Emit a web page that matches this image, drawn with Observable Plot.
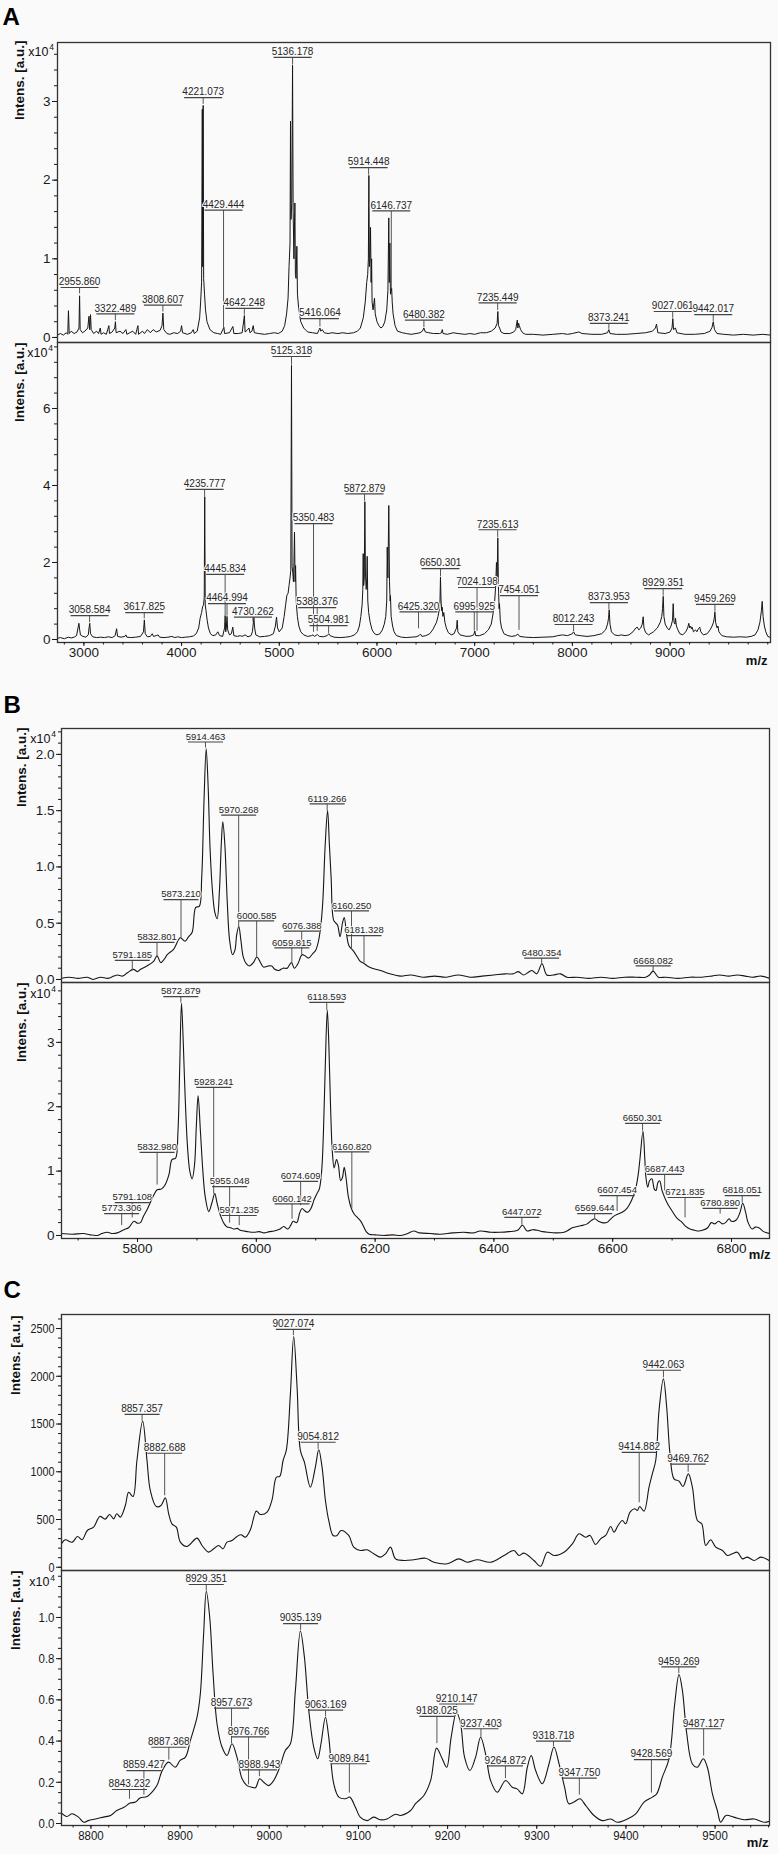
<!DOCTYPE html>
<html><head><meta charset="utf-8">
<script src="https://cdn.jsdelivr.net/npm/d3@7"></script>
<script src="https://cdn.jsdelivr.net/npm/@observablehq/plot@0.6"></script>
<style>
html,body{margin:0;padding:0;background:#fafafa;}
#root{position:relative;width:778px;height:1854px;overflow:hidden;font-family:"Liberation Sans",Arial,sans-serif;}
#root svg{position:absolute;left:0;}
</style></head><body><div id="root"></div>
<script>
// ---------- Spectra (m/z, intensity) ----------
const specA1 = [[2730,0.03],[2760,0.05],[2790,0.03],[2820,0.06],[2835,0.04],[2842,0.34],[2850,0.05],[2870,0.08],[2900,0.05],[2930,0.07],[2950,0.12],[2956,0.53],[2962,0.1],[2985,0.06],[3010,0.08],[3040,0.12],[3052,0.27],[3060,0.1],[3068,0.29],[3075,0.1],[3100,0.05],[3130,0.08],[3150,0.05],[3168,0.12],[3176,0.04],[3200,0.06],[3230,0.04],[3256,0.15],[3262,0.05],[3290,0.07],[3316,0.12],[3323,0.2],[3330,0.06],[3370,0.08],[3400,0.05],[3430,0.1],[3440,0.04],[3470,0.06],[3500,0.08],[3530,0.04],[3553,0.15],[3560,0.04],[3600,0.08],[3620,0.05],[3650,0.1],[3680,0.06],[3710,0.1],[3740,0.07],[3780,0.09],[3800,0.15],[3809,0.31],[3818,0.1],[3850,0.05],[3880,0.04],[3920,0.06],[3960,0.05],[3990,0.08],[4000,0.15],[4010,0.06],[4060,0.04],[4100,0.06],[4119,0.1],[4130,0.05],[4160,0.08],[4185,0.25],[4195,0.45],[4205,0.7],[4212,2.9],[4216,0.9],[4221,2.95],[4226,0.75],[4235,0.55],[4245,0.35],[4260,0.2],[4290,0.1],[4330,0.06],[4370,0.05],[4400,0.04],[4433,0.13],[4440,0.05],[4490,0.06],[4525,0.14],[4535,0.05],[4580,0.05],[4620,0.06],[4643,0.28],[4650,0.07],[4670,0.09],[4690,0.12],[4700,0.06],[4720,0.08],[4733,0.15],[4745,0.06],[4790,0.05],[4850,0.04],[4900,0.05],[4950,0.06],[4990,0.05],[5030,0.08],[5055,0.15],[5075,0.3],[5090,0.5],[5100,0.9],[5110,1.2],[5115,2.75],[5120,1.5],[5128,1.7],[5136,3.46],[5142,1.6],[5150,1.0],[5160,1.71],[5165,0.8],[5172,0.75],[5180,1.16],[5186,0.55],[5200,0.35],[5220,0.2],[5250,0.12],[5290,0.07],[5340,0.06],[5390,0.05],[5408,0.1],[5416,0.12],[5425,0.08],[5440,0.1],[5460,0.06],[5500,0.05],[5540,0.06],[5600,0.05],[5650,0.06],[5700,0.05],[5760,0.06],[5800,0.08],[5830,0.12],[5860,0.25],[5880,0.45],[5895,0.7],[5905,0.8],[5912,1.0],[5917,2.06],[5922,0.9],[5928,1.0],[5934,1.4],[5940,0.7],[5945,1.0],[5950,0.45],[5960,0.35],[5975,0.5],[5982,0.3],[6000,0.2],[6020,0.15],[6040,0.12],[6060,0.14],[6080,0.2],[6100,0.35],[6112,0.6],[6121,1.52],[6126,0.7],[6132,1.2],[6138,0.55],[6150,0.63],[6156,0.45],[6165,0.3],[6185,0.15],[6210,0.08],[6260,0.06],[6300,0.05],[6350,0.04],[6400,0.05],[6440,0.06],[6465,0.08],[6480,0.12],[6495,0.07],[6530,0.06],[6580,0.05],[6640,0.05],[6660,0.06],[6668,0.1],[6676,0.05],[6720,0.04],[6780,0.06],[6830,0.05],[6900,0.04],[6950,0.05],[7000,0.04],[7060,0.06],[7120,0.06],[7170,0.08],[7210,0.12],[7230,0.18],[7237,0.33],[7244,0.15],[7255,0.12],[7270,0.07],[7300,0.05],[7360,0.05],[7400,0.07],[7420,0.1],[7436,0.22],[7442,0.12],[7450,0.18],[7457,0.15],[7470,0.1],[7490,0.06],[7520,0.04],[7600,0.04],[7700,0.03],[7800,0.04],[7900,0.05],[7950,0.04],[8000,0.05],[8066,0.07],[8100,0.05],[8200,0.04],[8300,0.04],[8360,0.06],[8373,0.1],[8385,0.05],[8450,0.04],[8550,0.04],[8650,0.05],[8750,0.06],[8820,0.08],[8850,0.12],[8861,0.17],[8875,0.06],[8950,0.05],[9000,0.07],[9020,0.12],[9028,0.24],[9036,0.1],[9055,0.12],[9070,0.06],[9150,0.04],[9250,0.04],[9350,0.05],[9410,0.08],[9430,0.13],[9442,0.2],[9455,0.1],[9480,0.05],[9550,0.04],[9650,0.03],[9750,0.04],[9850,0.03],[9950,0.04],[10028,0.03]];

const specA2 = [[2730,0.03],[2760,0.05],[2800,0.02],[2840,0.06],[2870,0.04],[2900,0.06],[2925,0.1],[2940,0.3],[2949,0.42],[2957,0.25],[2965,0.12],[2990,0.08],[3020,0.06],[3045,0.12],[3053,0.3],[3060,0.42],[3068,0.15],[3090,0.07],[3130,0.05],[3170,0.06],[3210,0.05],[3250,0.07],[3290,0.05],[3320,0.1],[3335,0.28],[3345,0.08],[3380,0.06],[3420,0.08],[3430,0.12],[3440,0.06],[3480,0.05],[3530,0.06],[3580,0.08],[3610,0.2],[3619,0.51],[3628,0.15],[3650,0.07],[3680,0.08],[3700,0.15],[3712,0.08],[3740,0.1],[3760,0.12],[3775,0.06],[3820,0.05],[3860,0.06],[3900,0.08],[3930,0.05],[3960,0.07],[4000,0.05],[4040,0.06],[4080,0.07],[4120,0.09],[4150,0.15],[4175,0.3],[4190,0.55],[4205,0.7],[4215,0.85],[4225,0.9],[4232,1.1],[4237,3.71],[4242,0.9],[4250,0.75],[4262,0.5],[4275,0.3],[4295,0.15],[4320,0.1],[4350,0.12],[4371,0.2],[4390,0.1],[4420,0.08],[4440,0.3],[4446,0.62],[4452,0.2],[4458,0.3],[4465,0.6],[4472,0.25],[4490,0.12],[4510,0.15],[4524,0.32],[4535,0.1],[4570,0.08],[4600,0.1],[4620,0.08],[4650,0.12],[4680,0.07],[4710,0.1],[4725,0.2],[4740,0.57],[4748,0.3],[4760,0.12],[4800,0.07],[4850,0.08],[4900,0.1],[4940,0.15],[4960,0.35],[4972,0.58],[4982,0.3],[5000,0.2],[5030,0.3],[5050,0.6],[5065,0.9],[5078,1.15],[5090,1.2],[5100,1.4],[5110,1.6],[5118,1.8],[5125,7.12],[5131,1.9],[5138,1.75],[5145,1.5],[5150,2.0],[5156,2.79],[5162,1.5],[5167,1.92],[5173,1.0],[5185,0.6],[5200,0.35],[5220,0.2],[5250,0.12],[5290,0.08],[5330,0.1],[5345,0.12],[5360,0.08],[5390,0.13],[5410,0.08],[5450,0.07],[5490,0.1],[5507,0.15],[5520,0.1],[5560,0.06],[5620,0.05],[5680,0.06],[5730,0.08],[5770,0.12],[5800,0.2],[5820,0.35],[5835,0.6],[5848,0.9],[5855,1.3],[5859,2.23],[5864,1.4],[5870,1.6],[5876,3.58],[5882,1.7],[5890,1.3],[5896,1.6],[5900,2.16],[5906,1.0],[5915,0.7],[5930,0.45],[5950,0.25],[5975,0.15],[6000,0.12],[6030,0.15],[6055,0.25],[6075,0.4],[6090,0.6],[6100,1.0],[6105,2.4],[6112,1.6],[6121,3.48],[6128,1.5],[6135,1.0],[6138,1.14],[6145,0.6],[6160,0.35],[6175,0.2],[6200,0.1],[6250,0.06],[6300,0.05],[6350,0.06],[6400,0.07],[6430,0.1],[6445,0.14],[6460,0.08],[6500,0.1],[6540,0.15],[6570,0.25],[6590,0.35],[6610,0.45],[6625,0.6],[6640,0.8],[6645,1.0],[6650,1.62],[6656,1.0],[6662,0.75],[6667,0.84],[6675,0.6],[6684,0.7],[6695,0.45],[6710,0.3],[6730,0.18],[6760,0.12],[6790,0.15],[6805,0.25],[6815,0.3],[6821,0.5],[6828,0.2],[6850,0.12],[6880,0.1],[6920,0.08],[6960,0.09],[6990,0.12],[7002,0.22],[7010,0.1],[7050,0.1],[7100,0.15],[7140,0.25],[7170,0.4],[7190,0.7],[7205,1.0],[7215,1.4],[7223,2.0],[7230,1.6],[7237,2.64],[7243,1.4],[7250,0.8],[7254,0.93],[7262,0.5],[7275,0.3],[7300,0.15],[7340,0.1],[7380,0.08],[7420,0.1],[7442,0.14],[7460,0.08],[7520,0.06],[7600,0.05],[7700,0.06],[7800,0.07],[7850,0.1],[7900,0.12],[7950,0.1],[8000,0.15],[8012,0.2],[8030,0.12],[8080,0.1],[8150,0.08],[8220,0.1],[8300,0.15],[8340,0.25],[8360,0.4],[8370,0.55],[8377,0.77],[8385,0.4],[8400,0.2],[8430,0.12],[8470,0.1],[8500,0.12],[8540,0.1],[8580,0.12],[8620,0.2],[8650,0.3],[8664,0.32],[8680,0.25],[8700,0.3],[8715,0.4],[8725,0.59],[8733,0.3],[8750,0.18],[8780,0.12],[8830,0.2],[8870,0.3],[8900,0.45],[8915,0.6],[8923,0.8],[8930,1.12],[8937,0.6],[8950,0.4],[8970,0.3],[8990,0.25],[9010,0.35],[9025,0.5],[9032,0.93],[9040,0.45],[9050,0.4],[9056,0.55],[9065,0.35],[9080,0.25],[9100,0.15],[9130,0.12],[9160,0.2],[9180,0.3],[9192,0.42],[9200,0.3],[9210,0.35],[9218,0.28],[9226,0.32],[9240,0.2],[9260,0.25],[9275,0.2],[9290,0.28],[9304,0.32],[9315,0.2],[9340,0.12],[9380,0.15],[9410,0.25],[9430,0.35],[9445,0.45],[9452,0.55],[9459,0.71],[9466,0.45],[9475,0.35],[9482,0.3],[9490,0.35],[9500,0.2],[9530,0.1],[9580,0.07],[9650,0.06],[9720,0.07],[9780,0.06],[9830,0.08],[9870,0.12],[9900,0.25],[9920,0.45],[9935,0.75],[9943,0.99],[9952,0.6],[9965,0.35],[9980,0.2],[10000,0.08],[10028,0.05]];

const specB1 = [[5672,0.01],[5685,0.02],[5700,0.01],[5715,0.02],[5725,0.0],[5738,0.02],[5750,0.01],[5760,0.03],[5766,0.04],[5775,0.03],[5783,0.06],[5793,0.09],[5800,0.07],[5805,0.09],[5816,0.12],[5827,0.16],[5833,0.21],[5839,0.15],[5845,0.18],[5850,0.22],[5861,0.27],[5872,0.37],[5880,0.34],[5886,0.38],[5892,0.42],[5898,0.64],[5904,0.65],[5908,0.9],[5912,1.6],[5915.6,2.05],[5919,1.7],[5922,1.18],[5926,0.8],[5930,0.6],[5934,0.54],[5938,0.8],[5941,1.2],[5943.6,1.4],[5947,1.2],[5951,0.7],[5955,0.35],[5960,0.22],[5964,0.26],[5967,0.4],[5970.5,0.47],[5974,0.35],[5978,0.2],[5983,0.14],[5988,0.12],[5995,0.15],[6001,0.2],[6006,0.16],[6012,0.11],[6020,0.12],[6026,0.12],[6031,0.09],[6038,0.08],[6045,0.1],[6052,0.1],[6059,0.15],[6064,0.1],[6070,0.14],[6077,0.22],[6082,0.21],[6088,0.19],[6095,0.23],[6100,0.26],[6105,0.35],[6109,0.5],[6112,0.7],[6116,1.2],[6120,1.5],[6123,1.2],[6126,0.9],[6130,0.53],[6134,0.5],[6137,0.48],[6141,0.38],[6145,0.5],[6148,0.55],[6152,0.4],[6156,0.3],[6164,0.25],[6170,0.2],[6175,0.16],[6182,0.14],[6187,0.12],[6195,0.1],[6209,0.08],[6225,0.05],[6243,0.03],[6260,0.04],[6280,0.02],[6300,0.03],[6320,0.02],[6340,0.04],[6360,0.02],[6380,0.03],[6400,0.04],[6420,0.05],[6433,0.05],[6441,0.07],[6450,0.04],[6457,0.06],[6464,0.08],[6472,0.05],[6481,0.14],[6489,0.04],[6500,0.04],[6512,0.05],[6523,0.02],[6540,0.02],[6560,0.01],[6580,0.02],[6600,0.01],[6620,0.02],[6640,0.02],[6655,0.02],[6662,0.04],[6668,0.074],[6677,0.02],[6690,0.02],[6710,0.01],[6730,0.02],[6750,0.02],[6767,0.03],[6780,0.04],[6795,0.03],[6810,0.04],[6823,0.03],[6835,0.02],[6850,0.03],[6864,0.01]];

const specB2 = [[5672,0.03],[5690,0.02],[5709,0.03],[5720,0.01],[5732,0.0],[5740,0.03],[5749,0.05],[5758,0.03],[5766,0.04],[5777,0.09],[5785,0.12],[5794,0.22],[5800,0.19],[5805,0.2],[5810,0.3],[5816,0.4],[5826,0.6],[5833,0.71],[5840,0.72],[5846,0.78],[5853,0.95],[5858,1.18],[5864,1.2],[5868,1.6],[5871,2.6],[5874,3.61],[5877,3.0],[5880,2.2],[5884,1.4],[5888,1.0],[5892,0.88],[5896,1.1],[5899,1.7],[5902,2.17],[5906,1.6],[5910,1.0],[5914,0.6],[5920,0.37],[5925,0.5],[5930,0.65],[5934,0.5],[5940,0.3],[5946,0.18],[5951,0.13],[5957,0.12],[5962,0.1],[5968,0.11],[5973,0.08],[5985,0.06],[5996,0.05],[6005,0.06],[6013,0.04],[6022,0.06],[6030,0.07],[6040,0.1],[6046,0.14],[6053,0.1],[6058,0.16],[6062,0.22],[6068,0.2],[6073,0.35],[6077,0.42],[6082,0.38],[6086,0.36],[6092,0.42],[6097,0.55],[6102,0.65],[6106,0.72],[6110,1.0],[6113,1.6],[6116,2.6],[6119.5,3.5],[6122,3.0],[6125,2.0],[6128,1.3],[6131,1.05],[6135,1.18],[6138,1.1],[6142,0.85],[6145,0.9],[6148,1.06],[6151,0.9],[6155,0.6],[6160,0.42],[6165,0.33],[6170,0.28],[6176,0.22],[6180,0.15],[6185,0.06],[6190,0.02],[6200,0.01],[6215,0.0],[6230,0.01],[6243,0.0],[6255,0.03],[6265,0.07],[6275,0.04],[6293,0.03],[6310,0.02],[6330,0.04],[6349,0.05],[6365,0.04],[6377,0.07],[6395,0.05],[6410,0.05],[6425,0.06],[6440,0.08],[6448,0.16],[6456,0.07],[6465,0.09],[6473,0.08],[6482,0.06],[6490,0.05],[6505,0.04],[6518,0.05],[6525,0.08],[6532,0.12],[6546,0.15],[6557,0.18],[6565,0.24],[6570,0.26],[6576,0.22],[6582,0.2],[6590,0.2],[6594,0.23],[6602,0.3],[6608,0.33],[6616,0.36],[6624,0.42],[6632,0.55],[6638,0.7],[6643,0.95],[6646,1.2],[6651,1.62],[6654,1.2],[6656,0.9],[6659,0.75],[6662,0.85],[6666,0.88],[6670,0.72],[6673,0.7],[6676,0.82],[6679,0.85],[6683,0.7],[6687,0.6],[6692,0.5],[6700,0.38],[6709,0.26],[6715,0.22],[6722,0.15],[6730,0.1],[6738,0.08],[6745,0.07],[6751,0.08],[6760,0.12],[6766,0.2],[6772,0.18],[6778,0.22],[6785,0.18],[6790,0.2],[6796,0.26],[6800,0.22],[6808,0.24],[6814,0.35],[6819,0.5],[6824,0.35],[6828,0.2],[6835,0.1],[6840,0.13],[6846,0.12],[6854,0.06],[6864,0.03]];

const specC1 = [[8767,245],[8771,288],[8779,263],[8785,322],[8790,288],[8796,385],[8803,420],[8810,532],[8816,504],[8821,553],[8825.5,507],[8829,560],[8833,525],[8838.6,647],[8842.3,786],[8847.2,741],[8851.6,1118],[8858,1530],[8862.9,1118],[8866.6,804],[8873.3,636],[8878.6,647],[8883.4,727],[8887.2,560],[8890.9,455],[8895.8,420],[8900.3,263],[8907.7,218],[8919,305],[8924.6,228],[8932,158],[8937.7,193],[8943.3,228],[8948.1,193],[8952.6,263],[8958.2,280],[8963.8,322],[8968.3,340],[8973.2,315],[8978.8,392],[8985.5,588],[8990,553],[8997.5,577],[9003.1,706],[9008,944],[9011.7,951],[9015.5,1118],[9019.2,1230],[9023.7,1816],[9027.4,2416],[9031.2,1886],[9034.9,1223],[9039.4,1100],[9046.1,839],[9051.7,1048],[9055.5,1230],[9059.2,1048],[9063,699],[9066.7,490],[9071.6,333],[9076,333],[9080.5,385],[9089.1,333],[9094.7,211],[9102.2,176],[9109.7,183],[9117.2,141],[9124.7,106],[9130.4,141],[9136,211],[9141.6,88],[9151,71],[9162,78],[9175.3,95],[9184.6,53],[9199.6,36],[9212.7,88],[9222,53],[9233.3,78],[9248.2,53],[9263.2,123],[9274.4,176],[9280,123],[9285.6,148],[9296.8,71],[9304.3,10],[9311.8,158],[9319.3,123],[9330.5,158],[9339.9,245],[9347.3,350],[9354.8,315],[9359.7,333],[9366,238],[9371.6,298],[9377.3,333],[9382.9,427],[9386.6,368],[9391.1,437],[9396,490],[9399.7,455],[9404.6,577],[9409.8,612],[9412.8,595],[9415.4,636],[9420.3,588],[9425.9,839],[9429.6,978],[9433.4,1118],[9437.1,1641],[9442,1973],[9445.7,1676],[9449.4,1188],[9453.9,926],[9459.5,902],[9464,846],[9470,978],[9474.5,839],[9480.1,490],[9485,455],[9489.5,228],[9495,288],[9500.7,211],[9508.2,176],[9513.8,123],[9519.4,141],[9525,158],[9530.6,88],[9536.2,106],[9543.7,71],[9551.2,106],[9560.5,71]];

const specC2 = [[8767,0.05],[8773,0.034],[8779,0.047],[8786,0.031],[8792,0.006],[8797,0.014],[8805,0.022],[8814,0.031],[8822,0.039],[8829,0.063],[8837,0.079],[8844,0.099],[8850,0.104],[8855,0.124],[8863,0.131],[8868.5,0.152],[8874,0.184],[8880,0.257],[8887,0.298],[8894.6,0.273],[8900,0.306],[8906,0.322],[8911.5,0.403],[8919,0.516],[8922.7,0.63],[8926.4,0.921],[8929.4,1.127],[8933.2,1.002],[8937,0.727],[8941.4,0.484],[8947,0.371],[8952.6,0.33],[8958.2,0.387],[8963.8,0.322],[8969.5,0.217],[8975,0.184],[8980.7,0.176],[8984.4,0.173],[8989.3,0.217],[8993.8,0.2],[8999.4,0.184],[9005,0.209],[9011.7,0.273],[9018,0.354],[9023.7,0.387],[9029.3,0.646],[9034.9,0.934],[9039.4,0.808],[9044.3,0.549],[9049.9,0.371],[9054.3,0.314],[9058,0.387],[9063,0.516],[9066.7,0.419],[9072.3,0.193],[9078,0.128],[9085.4,0.12],[9090.3,0.128],[9096.6,0.079],[9102,0.031],[9109.7,0.014],[9117,0.031],[9124.7,0.018],[9132,0.022],[9141.5,0.045],[9147.2,0.039],[9158.5,0.063],[9164,0.096],[9173.4,0.136],[9181,0.209],[9187.6,0.366],[9194,0.314],[9199,0.273],[9204,0.419],[9210,0.54],[9214.6,0.484],[9219,0.322],[9225,0.257],[9231.4,0.322],[9237,0.419],[9242.6,0.338],[9248.2,0.209],[9255.7,0.152],[9265,0.209],[9272.5,0.176],[9278,0.168],[9283.8,0.144],[9289.4,0.273],[9293.8,0.33],[9298.7,0.257],[9306.2,0.193],[9313.7,0.289],[9319.3,0.371],[9325,0.289],[9331.2,0.176],[9336,0.096],[9341.7,0.104],[9348.4,0.12],[9354.8,0.088],[9364.2,0.039],[9373.5,0.014],[9383,0.022],[9390.3,0.006],[9401.6,0.022],[9411,0.047],[9420.3,0.104],[9429.6,0.128],[9434.5,0.144],[9440.8,0.225],[9448.3,0.314],[9454.7,0.581],[9459.5,0.723],[9463.3,0.646],[9468,0.443],[9474.5,0.289],[9480,0.273],[9486.8,0.314],[9491.3,0.273],[9497,0.144],[9502.5,0.063],[9506.3,0.006],[9512,0.039],[9521,0.031],[9532.5,0.018],[9543.7,0.022],[9555,0.006],[9561,0.011]];

// ---------- Peak annotations: label text, label level, line end ----------
const labA1 = ["2955.860","3322.489","3808.607","4221.073","4429.444","4642.248","5136.178","5416.064","5914.448","6146.737","6480.382","7235.449","8373.241","9027.061","9442.017"];
const levA1 = [0.635,0.30,0.41,3.05,1.62,0.37,3.56,0.24,2.16,1.61,0.22,0.44,0.18,0.33,0.29];
const endA1 = [0.56,0.22,0.33,2.97,0.12,0.29,3.47,0.14,2.07,0.62,0.13,0.35,0.11,0.25,0.21];

const labA2 = ["3058.584","3617.825","4235.777","4445.834","4464.994","4730.262","5125.318","5350.483","5388.376","5504.981","5872.879","6425.320","6650.301","6995.925","7024.198","7235.613","7454.051","8012.243","8373.953","8929.351","9459.269"];
const levA2 = [0.62,0.70,3.9,1.69,0.93,0.58,7.35,3.01,0.83,0.36,3.78,0.72,1.84,0.72,1.35,2.85,1.14,0.39,0.96,1.32,0.91];
const endA2 = [0.45,0.55,3.72,0.62,0.62,0.47,7.14,0.2,0.22,0.17,3.6,0.29,1.64,0.23,0.23,2.66,0.25,0.22,0.78,1.14,0.72];

const labB1 = ["5791.185","5832.801","5873.210","5914.463","5970.268","6000.585","6059.815","6076.388","6119.266","6160.250","6181.328","6480.354","6668.082"];
const levB1 = [0.17,0.33,0.71,2.11,1.46,0.52,0.28,0.43,1.56,0.61,0.39,0.19,0.12];
const endB1 = [0.08,0.21,0.37,2.06,0.47,0.2,0.15,0.22,1.5,0.27,0.15,0.14,0.075];

const labB2 = ["5773.306","5791.108","5832.980","5872.879","5928.241","5955.048","5971.235","6060.142","6074.609","6118.593","6160.820","6447.072","6569.644","6607.454","6650.301","6687.443","6721.835","6780.890","6818.051"];
const levB2 = [0.34,0.51,1.29,3.71,2.3,0.76,0.31,0.49,0.84,3.62,1.3,0.28,0.34,0.62,1.74,0.95,0.59,0.42,0.62];
const endB2 = [0.16,0.28,0.79,3.62,0.65,0.2,0.16,0.26,0.47,3.5,0.42,0.17,0.27,0.38,1.63,0.7,0.28,0.34,0.51];

const labC1 = ["8857.357","8882.688","9027.074","9054.812","9414.882","9442.063","9469.762"];
const levC1 = [1602,1194,2492,1309,1204,2063,1079];
const endC1 = [1535,754,2430,1240,681,1990,1000];

const labC2 = ["8843.232","8859.427","8887.368","8929.351","8957.673","8976.766","8988.943","9035.139","9063.169","9089.841","9188.025","9210.147","9237.403","9264.872","9318.718","9347.750","9428.569","9459.269","9487.127"];
const levC2 = [0.165,0.257,0.37,1.16,0.56,0.42,0.26,0.97,0.55,0.29,0.52,0.58,0.46,0.28,0.40,0.22,0.31,0.76,0.46];
const endC2 = [0.12,0.14,0.31,1.13,0.39,0.19,0.23,0.94,0.52,0.15,0.39,0.545,0.42,0.22,0.375,0.14,0.15,0.73,0.33];

// ---------- Ticks ----------
const xTicksA = [3000,4000,5000,6000,7000,8000,9000];
const xTicksB = [5800,6000,6200,6400,6600,6800];
const xTicksC = [8800,8900,9000,9100,9200,9300,9400,9500];
const yTicksA1 = [0,1,2,3];
const yTicksA2 = [0,2,4,6];
const yTicksB1 = [0,0.5,1,1.5,2];
const yTicksB2 = [0,1,2,3];
const yTicksC1 = [0,500,1000,1500,2000,2500];
const yTicksC2 = [0,0.2,0.4,0.6,0.8,1.0];

const BG = "#fafafa";
const root = document.getElementById("root");

function underline(w) {
  return {draw(ctx) { ctx.moveTo(-w / 2, 0); ctx.lineTo(w / 2, 0); }};
}

function subplot(o) {
  const mt = 20, mb = o.xTicks ? 32 : 0;
  const ann = o.lab.map((t, i) => ({t, mz: +t, level: o.lev[i], end: o.end[i]}));
  const marks = [
    Plot.line(o.spec, {x: d => d[0], y: d => d[1], stroke: "#161616", strokeWidth: o.lw, clip: true, curve: o.curve || "linear"}),
    Plot.link(ann, {x1: "mz", x2: "mz", y1: "level", y2: "end", stroke: "#555", strokeWidth: 1}),
    Plot.text(ann, {x: "mz", y: "level", text: "t", dy: -2.2, lineAnchor: "bottom", fontSize: o.fs,
      fill: "#262626", stroke: BG, strokeWidth: 2, paintOrder: "stroke", ariaLabel: "peak label"}),
    Plot.dot(ann, {x: "mz", y: "level", symbol: underline(o.bw), r: 3, stroke: "#444", strokeWidth: 1.2, fill: "none"}),
    Plot.frame({stroke: "#333", strokeWidth: 1.3}),
    Plot.axisY(d3.range(0, o.yDomain[1], o.yMinor), {tickSize: 3, tickFormat: () => "", label: null}),
    Plot.axisY(o.yTicks, {tickSize: 5, tickPadding: 2, tickFormat: o.yFmt, label: null, fontSize: 13.5}),
    Plot.text(["Intens. [a.u.]"], {frameAnchor: "top-left", dx: o.ylDx, dy: o.ylDy, rotate: -90, textAnchor: "end",
      lineAnchor: "middle", fontWeight: "bold", fontSize: 13.5, fill: "#111"})
  ];
  if (o.exp) {
    marks.push(Plot.text(["x10"], {frameAnchor: "top-left", dx: o.exp[0], dy: o.exp[1], textAnchor: "end", lineAnchor: "bottom", fontSize: 12.5, fill: "#111"}));
    marks.push(Plot.text(["4"], {frameAnchor: "top-left", dx: o.exp[0] + 0.8, dy: o.exp[1] - 5.5, textAnchor: "start", lineAnchor: "bottom", fontSize: 8.5, fill: "#111"}));
  }
  if (o.letter) {
    marks.push(Plot.text([o.letter], {frameAnchor: "top-left", dx: o.letterDx, dy: o.letterDy, textAnchor: "start", lineAnchor: "bottom", fontWeight: "bold", fontSize: 24, fill: "#000"}));
  }
  if (o.xTicks) {
    marks.push(Plot.axisX(d3.range(o.xMinor * Math.ceil(o.xDomain[0] / o.xMinor), o.xDomain[1], o.xMinor), {tickSize: 2.5, tickFormat: () => "", label: null}));
    marks.push(Plot.axisX(o.xTicks, {tickSize: 4, tickPadding: 1, tickFormat: d => String(d), label: null, fontSize: 13.5}));
    marks.push(Plot.text(["m/z"], {frameAnchor: "bottom-right", dx: o.mzDx, dy: o.mzDy, textAnchor: "end", lineAnchor: "bottom", fontWeight: "bold", fontSize: 13, fill: "#111"}));
  }
  const svg = Plot.plot({
    width: 778,
    height: (o.bottom - o.top) + mt + mb,
    marginLeft: o.left, marginRight: 778 - o.right, marginTop: mt, marginBottom: mb,
    style: {background: "transparent", overflow: "visible", fontFamily: "'Liberation Sans', Arial, sans-serif", fontSize: "13px", color: "#1a1a1a"},
    x: {domain: o.xDomain, axis: null, label: null},
    y: {domain: o.yDomain, axis: null, label: null},
    marks
  });
  // drop the empty labels of the minor-tick axes
  svg.querySelectorAll("text").forEach(t => { if (t.textContent.trim() === "") t.remove(); });
  svg.querySelectorAll('g[aria-label="peak label"] text').forEach(t => {
    t.setAttribute("textLength", o.tl);
    t.setAttribute("lengthAdjust", "spacingAndGlyphs");
  });
  svg.style.top = (o.top - mt) + "px";
  root.appendChild(svg);
  if (o.squeeze) {
    svg.querySelectorAll('g[aria-label="y-axis tick label"] text, g[aria-label="x-axis tick label"] text').forEach(t => {
      const len = t.getComputedTextLength();
      if (len > 0) {
        t.setAttribute("textLength", (len * o.squeeze).toFixed(2));
        t.setAttribute("lengthAdjust", "spacingAndGlyphs");
      }
    });
  }
}

const fmtInt = d => String(d);
const fmt1 = d3.format(".1f");

// Panel A
subplot({spec: specA1, lab: labA1, lev: levA1, end: endA1, xDomain: [2730, 10028], yDomain: [-0.064, 3.75],
  left: 57, right: 770, top: 42, bottom: 342, yTicks: yTicksA1, yMinor: 0.2, yFmt: fmtInt, lw: 1,
  fs: 10, tl: 36, bw: 38, ylDx: -38, ylDy: -2, exp: [-9, 13], letter: "A", letterDx: -55, letterDy: -18});
subplot({spec: specA2, lab: labA2, lev: levA2, end: endA2, xDomain: [2730, 10028], yDomain: [-0.078, 7.714],
  left: 57, right: 770, top: 342, bottom: 642, yTicks: yTicksA2, yMinor: 0.4, yFmt: fmtInt, lw: 1,
  fs: 10, tl: 36, bw: 38, ylDx: -38, ylDy: 0, exp: [-10, 14],
  xTicks: xTicksA, xMinor: 200, mzDx: -3, mzDy: 22});
// Panel B
subplot({spec: specB1, lab: labB1, lev: levB1, end: endB1, xDomain: [5672, 6864], yDomain: [-0.027, 2.23],
  left: 61, right: 769, top: 728, bottom: 982, yTicks: yTicksB1, yMinor: 0.1, yFmt: fmt1, lw: 1.1, curve: "catmull-rom",
  fs: 9.5, tl: 34, bw: 35, ylDx: -40, ylDy: -1, exp: [-11, 14], letter: "B", letterDx: -58, letterDy: -16});
subplot({spec: specB2, lab: labB2, lev: levB2, end: endB2, xDomain: [5672, 6864], yDomain: [-0.047, 3.93],
  left: 61, right: 769, top: 982, bottom: 1238, yTicks: yTicksB2, yMinor: 0.2, yFmt: fmtInt, lw: 1.1, curve: "catmull-rom",
  fs: 9.5, tl: 34, bw: 35, ylDx: -40, ylDy: 0, exp: [-11, 15],
  xTicks: xTicksB, xMinor: 100, mzDx: 1, mzDy: 20});
// Panel C
subplot({spec: specC1, lab: labC1, lev: levC1, end: endC1, xDomain: [8767, 9561], yDomain: [-34, 2647],
  left: 61, right: 769, top: 1314, bottom: 1570, yTicks: yTicksC1, yMinor: 100, yFmt: fmtInt, lw: 1.1, curve: "catmull-rom",
  fs: 10, tl: 33.5, bw: 35, ylDx: -46, ylDy: 1, letter: "C", letterDx: -58, letterDy: -17, squeeze: 0.8});
subplot({spec: specC2, lab: labC2, lev: levC2, end: endC2, xDomain: [8767, 9561], yDomain: [-0.0097, 1.228],
  left: 61, right: 769, top: 1570, bottom: 1825, yTicks: yTicksC2, yMinor: 0.05, yFmt: fmt1, lw: 1.1, curve: "catmull-rom",
  fs: 10, tl: 33.5, bw: 35, ylDx: -46, ylDy: 0, exp: [-12, 15.5],
  xTicks: xTicksC, xMinor: 20, mzDx: -1, mzDy: 21, squeeze: 0.85});
</script></body></html>
